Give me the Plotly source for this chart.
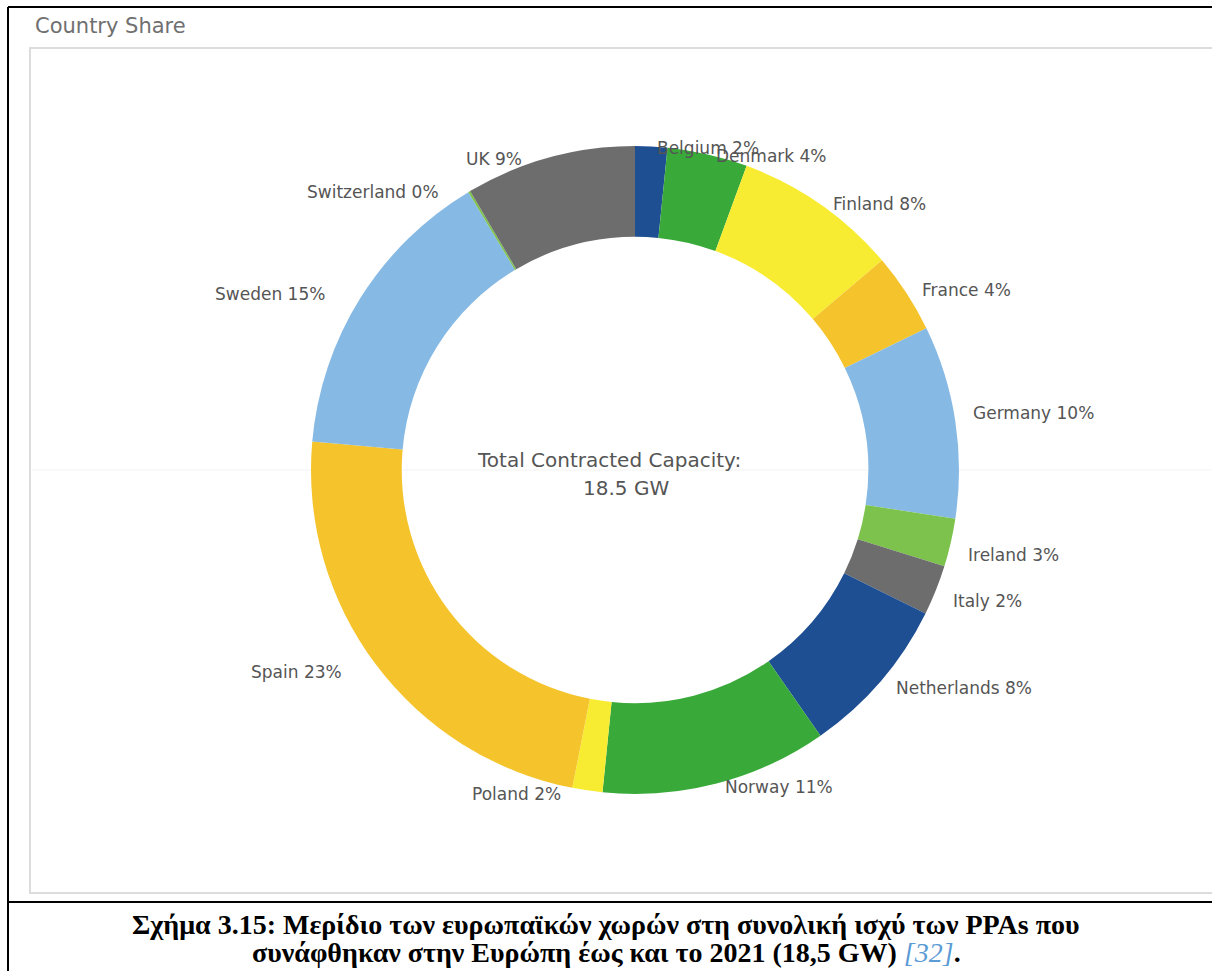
import math
import plotly.graph_objects as go

countries = ["Belgium", "Denmark", "Finland", "France", "Germany", "Ireland", "Italy",
             "Netherlands", "Norway", "Poland", "Spain", "Sweden", "Switzerland", "UK"]
share_values = [1.6, 4.0, 8.2, 4.0, 9.6, 2.4, 2.5, 8.0, 11.3, 1.5, 23.3, 15.0, 0.1, 8.5]
share_labels = [2, 4, 8, 4, 10, 3, 2, 8, 11, 2, 23, 15, 0, 9]
colors = ["#1f4f93", "#39a939", "#f8ec33", "#f5c42c", "#86b9e4", "#7cc24c", "#6e6d6d",
          "#1f4f93", "#39a939", "#f8ec33", "#f5c42c", "#86b9e4", "#7cc24c", "#6e6d6d"]

W, H = 1212, 971


def px(x):
    return x / W


def py(y):
    return 1 - y / H


# donut geometry (pixels)
cx, cy, R = 635, 470, 324
lab_rx, lab_ry = 337, 312

fig = go.Figure(go.Pie(
    labels=countries,
    values=share_values,
    textinfo="none",
    marker=dict(colors=colors, line=dict(width=0)),
    hole=0.72,
    sort=False,
    direction="clockwise",
    rotation=0,
    showlegend=False,
    hoverinfo="label+percent",
    domain=dict(x=[px(cx - R), px(cx + R)], y=[py(cy + R), py(cy - R)]),
))

shapes = [
    dict(type="line", x0=px(8), x1=px(1212), y0=py(7), y1=py(7), line=dict(color="black", width=2)),
    dict(type="line", x0=px(8), x1=px(8), y0=py(7), y1=py(971), line=dict(color="black", width=2)),
    dict(type="line", x0=px(8), x1=px(1212), y0=py(902), y1=py(902), line=dict(color="black", width=2)),
    dict(type="rect", x0=px(30), x1=px(1220), y0=py(48), y1=py(893), line=dict(color="#dcdcdc", width=2)),
    dict(type="line", x0=px(32), x1=px(1212), y0=py(470), y1=py(470),
         line=dict(color="#f3f3f3", width=1), layer="below"),
]

annotations = [
    dict(text="Country Share", x=px(33), y=py(26), xanchor="left", yanchor="middle",
         showarrow=False, font=dict(family="DejaVu Sans", size=21, color="#707070")),
    dict(text="Total Contracted Capacity:", x=px(609), y=py(460), xanchor="center", yanchor="middle",
         showarrow=False, font=dict(family="DejaVu Sans", size=20, color="#555555")),
    dict(text="18.5 GW", x=px(626), y=py(488), xanchor="center", yanchor="middle",
         showarrow=False, font=dict(family="DejaVu Sans", size=20, color="#555555")),
    dict(text="<b>Σχήμα 3.15: Μερίδιο των ευρωπαϊκών χωρών στη συνολική ισχύ των PPAs που</b>",
         x=px(606), y=py(924), xanchor="center", yanchor="middle", showarrow=False,
         font=dict(family="Liberation Serif", size=28, color="black")),
    dict(text="<b>συνάφθηκαν στην Ευρώπη έως και το 2021 (18,5 GW) </b>"
              "<i><span style='color:#5b9bd5'>[32]</span></i><b>.</b>",
         x=px(606), y=py(952), xanchor="center", yanchor="middle", showarrow=False,
         font=dict(family="Liberation Serif", size=28, color="black")),
]

# slice labels placed outside the ring at each slice's mid-angle
total = sum(share_values)
cum = 0.0
for name, v, lab in zip(countries, share_values, share_labels):
    mid = (cum + v / 2) / total * 2 * math.pi
    cum += v
    s, c = math.sin(mid), math.cos(mid)
    ax = cx + lab_rx * s
    ay = cy - lab_ry * c
    right = s >= 0
    upper = c >= 0
    annotations.append(dict(
        text=f"{name} {lab}%", x=px(ax), y=py(ay),
        xanchor="left" if right else "right", yanchor="middle",
        xshift=3 if right else -22, yshift=10 if upper else -15,
        showarrow=False, font=dict(family="DejaVu Sans", size=17, color="#555555"),
    ))

fig.update_layout(
    width=W, height=H,
    margin=dict(l=0, r=0, t=0, b=0),
    paper_bgcolor="white",
    plot_bgcolor="white",
    shapes=shapes,
    annotations=annotations,
)

fig.write_html("out.html", config={"displayModeBar": False},
               post_script="document.body.style.margin='0px';")
